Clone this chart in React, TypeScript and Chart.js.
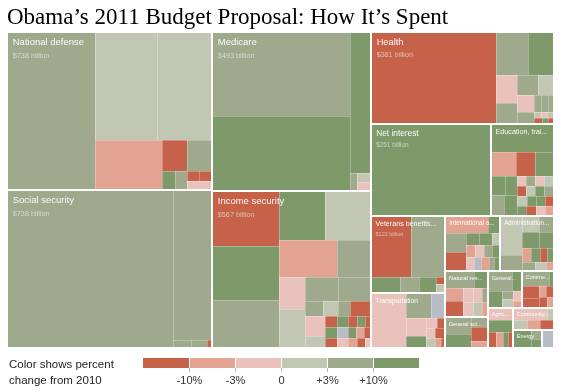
import React, { useEffect, useRef } from 'react';
import { Chart, registerables } from 'chart.js';

Chart.register(...registerables);

// ---------- data ----------
const chartTitle = 'Obama’s 2011 Budget Proposal: How It’s Spent';

const categories = [
  'National defense',
  'Social security',
  'Medicare',
  'Income security',
  'Health',
  'Net interest',
  'Education, training, employment and social services',
  'Veterans benefits and services',
  'Transportation',
  'International affairs',
  'Administration of justice',
  'Natural resources and environment',
  'General science, space and technology',
  'General government',
  'Commerce and housing credit',
  'Agriculture',
  'Community and regional development',
  'Energy',
  '',
];

const amountLabels = [
  '$738 billion', '$738 billion', '$493 billion', '$567 billion', '$381 billion',
  '$251 billion', '', '$122 billion', '', '', '', '', '', '', '', '', '', '', '',
];

const legendTicks = ['-10%', '-3%', '0', '+3%', '+10%'];
const legendCaption = ['Color shows percent', 'change from 2010'];

// cells: [value (billions), change class 0..6]; groups: ['h'|'v', ...children]
const defenseCells = ['h', [305, 5], ['v', ['h', [148, 4], [131, 4]], ['h', [74, 2], ['v', ['h', [17.2, 1], [17.2, 5]], ['h', [5.5, 6], [5.1, 5], ['v', ['h', [2.6, 1], [2.6, 1]], [5.3, 3]]]]]]];
const socialSecurityCells = ['h', [574, 5], ['v', [129, 5], ['h', [3.2, 5], [2.8, 5], [0.9, 1]]]];
const medicareCells = ['h', ['v', [255, 5], [230, 6]], ['v', [65, 6], ['h', [2.8, 5], ['v', [2.8, 4], [2.8, 3]]]]];
const incomeSecurityCells = ['h', ['v', [82, 1], [79, 6], [71.5, 5]], ['v', ['h', [50, 6], [50, 4]], ['h', [46.4, 2], [27.2, 5]], ['h', ['v', [18.5, 3], [22.5, 4]], ['v', ['h', [17.6, 5], [17.6, 5]], ['h', [6, 5], [5, 4], [4, 5], [7, 1]], ['h', ['v', [8.9, 3], [5.3, 4]], ['v', ['h', [2.8, 1], [2.8, 6], [2.2, 1], [1.8, 6], [1.6, 1]], ['h', [2.8, 6], [2.6, 0], [2, 6], [2, 2], [1.8, 1]], ['h', [2.6, 1], [2.4, 3], [2, 2], [1.8, 1], [1.4, 3]]]]]]]];
const healthCells = ['h', [251, 1], ['v', ['h', [30.6, 5], [24.8, 6]], ['h', ['v', [12.6, 3], [9.8, 5]], ['v', ['h', [8.9, 5], [6.8, 4]], ['h', ['v', [6.4, 3], [4.5, 5]], ['v', ['h', [2.6, 5], [2.6, 5], [2.4, 5]], ['v', ['h', [1, 4], [0.8, 3], [0.9, 4]], ['h', [1, 1], [0.8, 6], [0.8, 1]]]]]]]]];
const netInterestCells = [244, 6];
const educationCells = ['v', [38.9, 6], ['h', [12.8, 2], [10.1, 1], [10.1, 6]], ['h', ['v', ['h', [5.5, 6], [5.1, 6]], ['h', [6, 5], [5.7, 6]]], ['v', ['h', [2, 3], [2, 5], [2, 3], [2.2, 4]], ['h', [2, 1], [2, 4], [2, 6], [2.2, 5]], ['h', [2.2, 4], [2, 6], [2, 6], [2, 1]], ['h', [2, 6], [2.2, 1], [2, 3], [2, 2]]]]];
const veteransCells = ['v', ['h', [52.7, 1], [45.3, 5]], ['h', [10.6, 6], [6.6, 5], [6.2, 6], ['v', [1.6, 1], [1.9, 4]]]];
const transportationCells = ['h', [41.2, 3], ['v', ['h', [13.6, 5], [7.9, 0]], ['h', ['v', [8, 3], [5.3, 6]], ['v', ['h', [2.5, 3], [1.8, 1]], ['h', [2, 3], [2.3, 1]], ['h', [2, 4], [1.5, 2], [0.8, 1]]]]]];
const internationalCells = ['v', ['h', [16.1, 2], [4.5, 6]], ['h', ['v', [8.7, 5], [8.2, 1]], ['v', ['h', [3.5, 6], [3.5, 6], [2.1, 4]], ['h', [2.5, 2], [2.3, 3], [2.3, 5], [2, 6]], ['h', [2.5, 3], [2, 0], [2.2, 2], [1.5, 5], [1.6, 6]]]]];
const justiceCells = ['h', ['v', [19.1, 4], [7.3, 5]], ['v', ['h', [6, 4], [5.4, 5]], ['h', [6, 6], [5.4, 6]], ['h', [3, 2], [2.5, 6], [2.3, 1], [2.2, 6]], ['h', [2.4, 5], [1.8, 4], [1.5, 2]]]];
const naturalResourcesCells = ['v', ['h', [11, 5], [5.2, 6]], ['h', ['v', [5.2, 2], [6.1, 1]], ['v', ['h', [3.2, 3], [3, 3], [2, 5]], ['h', [3.2, 3], [3, 4], [2, 2]]]]];
const generalScienceCells = ['h', ['v', [9.6, 5], [8, 6]], ['v', [4, 5], [5.5, 1], [2.5, 2]]];
const generalGovernmentCells = ['v', ['h', [10.4, 5], [4.5, 6]], ['h', [5, 6], ['v', [2, 5], [2.1, 4]], ['v', [2.2, 3], [1.3, 2]]]];
const commerceCells = ['v', ['h', [9, 5], [1.7, 6]], ['h', ['v', [4.8, 1], [3.5, 1]], ['v', ['h', [1.8, 2], [1.8, 1]], ['h', [2, 1], [1.7, 2]]]]];
const agricultureCells = ['v', [6.7, 3], [6.7, 6], ['h', [2.8, 1], [2.5, 2], [1.8, 6], [1.8, 1]]];
const communityCells = ['v', ['h', [9, 3], [1.8, 4]], ['h', [3, 4], [3, 2], [3, 1]]];
const energyCells = ['h', [7, 6], ['v', [2.2, 5], [2.2, 6]]];
const otherCells = [4.8, 0];

const categoryCells: any[] = [
  defenseCells, socialSecurityCells, medicareCells, incomeSecurityCells, healthCells,
  netInterestCells, educationCells, veteransCells, transportationCells, internationalCells,
  justiceCells, naturalResourcesCells, generalScienceCells, generalGovernmentCells,
  commerceCells, agricultureCells, communityCells, energyCells, otherCells,
];

// how category blocks nest (indices into categories)
const arrangement: any = ['h', ['v', 0, 1], ['v', 2, 3], ['v', 4, ['h', 5, 6], ['h', ['v', 7, 8], ['v', ['h', 9, 10], ['h', ['v', 11, 12], ['v', ['h', 13, 14], ['h', 15, ['v', 16, ['h', 17, 18]]]]]]]]];

// ---------- styles ----------
const classColors = ['#b8bcc7', '#c7624a', '#e2a393', '#e9c3bb', '#c2c7b3', '#9fa98b', '#7f9a6a'];
const sans = "'Liberation Sans', Arial, sans-serif";

// ---------- layout helpers ----------
const isGroup = (n: any) => Array.isArray(n) && typeof n[0] === 'string';
function sizeOf(n: any, leafSize: (l: any) => number): number {
  if (isGroup(n)) {
    let s = 0;
    for (let i = 1; i < n.length; i++) s += sizeOf(n[i], leafSize);
    return s;
  }
  return leafSize(n);
}
type R = { x0: number; y0: number; x1: number; y1: number };
function layoutTree(n: any, r: R, leafSize: (l: any) => number, onLeaf: (l: any, r: R) => void) {
  if (!isGroup(n)) { onLeaf(n, r); return; }
  const kids = n.slice(1);
  const total = kids.reduce((s: number, k: any) => s + sizeOf(k, leafSize), 0);
  let acc = 0;
  for (const k of kids) {
    const v = sizeOf(k, leafSize);
    const a = acc / total, b = (acc + v) / total;
    acc += v;
    const sub = n[0] === 'h'
      ? { x0: r.x0 + (r.x1 - r.x0) * a, x1: r.x0 + (r.x1 - r.x0) * b, y0: r.y0, y1: r.y1 }
      : { x0: r.x0, x1: r.x1, y0: r.y0 + (r.y1 - r.y0) * a, y1: r.y0 + (r.y1 - r.y0) * b };
    layoutTree(k, sub, leafSize, onLeaf);
  }
}
const cellSize = (leaf: any) => leaf[0];
const catSize = (ci: number) => sizeOf(categoryCells[ci], cellSize);

function fitText(ctx: CanvasRenderingContext2D, text: string, maxW: number) {
  if (ctx.measureText(text).width <= maxW) return text;
  let s = text;
  while (s.length > 1 && ctx.measureText(s + '...').width > maxW) s = s.slice(0, -1);
  return s.trimEnd() + '...';
}

const treemapPlugin = {
  id: 'treemap',
  afterDatasetsDraw(chart: any) {
    const ctx: CanvasRenderingContext2D = chart.ctx;
    const xs = chart.scales.x, ys = chart.scales.y;
    const px = (v: number) => Math.round(xs.getPixelForValue(v));
    const py = (v: number) => Math.round(ys.getPixelForValue(v));
    ctx.save();
    layoutTree(arrangement, { x0: 0, y0: 0, x1: 1, y1: 1 }, catSize, (ci: number, r: R) => {
      const L = px(r.x0) + 1, Rr = px(r.x1) - 1, T = py(r.y0) + 1, B = py(r.y1) - 1;
      ctx.save();
      ctx.beginPath();
      ctx.rect(L, T, Rr - L, B - T);
      ctx.clip();
      const cells: any[] = [];
      layoutTree(categoryCells[ci], r, cellSize, (leaf: any, cr: R) => {
        const a = Math.max(L, px(cr.x0)), c = Math.min(Rr, px(cr.x1));
        const b = Math.max(T, py(cr.y0)), d = Math.min(B, py(cr.y1));
        cells.push([a, b, c, d, leaf[1]]);
      });
      for (const [a, b, c, d, k] of cells) {
        ctx.fillStyle = classColors[k];
        ctx.fillRect(a, b, c - a, d - b);
      }
      ctx.fillStyle = 'rgba(255,255,255,0.28)';
      for (const [a, b, c, d] of cells) {
        if (a > L) ctx.fillRect(a, b, 1, d - b);
        if (b > T) ctx.fillRect(a, b, c - a, 1);
      }
      const name = categories[ci];
      if (name) {
        const w = Rr - L, h = B - T;
        const f = Math.max(5.5, Math.min(9.5, 4.2 + 0.04 * Math.sqrt(w * h)));
        const padL = 0.5 * f;
        const base = T + 0.35 * f + 1.6 + 0.72 * f;
        ctx.font = `${f}px ${sans}`;
        ctx.textAlign = 'left';
        ctx.textBaseline = 'alphabetic';
        ctx.fillStyle = 'rgba(255,255,255,0.94)';
        ctx.fillText(fitText(ctx, name, w - 2 * padL), L + padL, base);
        const amt = amountLabels[ci];
        if (amt) {
          ctx.font = `${f * 0.77}px ${sans}`;
          ctx.fillStyle = 'rgba(255,255,255,0.55)';
          ctx.fillText(amt, L + padL, base + 1.35 * f);
        }
      }
      ctx.restore();
    });
    ctx.restore();
  },
};

const legendPlugin = {
  id: 'colorLegend',
  afterDraw(chart: any) {
    const ctx: CanvasRenderingContext2D = chart.ctx;
    ctx.save();
    ctx.fillStyle = '#222';
    ctx.font = `11.5px ${sans}`;
    ctx.textAlign = 'left';
    ctx.textBaseline = 'alphabetic';
    ctx.fillText(legendCaption[0], 9, 368);
    ctx.fillText(legendCaption[1], 9, 384);
    const x0 = 143, bw = 46, top = 358, bh = 10;
    for (let i = 1; i <= 6; i++) {
      ctx.fillStyle = classColors[i];
      ctx.fillRect(x0 + (i - 1) * bw, top, bw, bh);
    }
    ctx.font = `11px ${sans}`;
    ctx.textAlign = 'center';
    legendTicks.forEach((t, i) => {
      const x = x0 + (i + 1) * bw;
      ctx.fillStyle = '#ffffff';
      ctx.fillRect(x, top, 1, bh);
      ctx.fillStyle = '#b5b5b5';
      ctx.fillRect(x, top + bh, 1, 4);
      ctx.fillStyle = '#333';
      ctx.fillText(t, x + 0.5, 384);
    });
    ctx.restore();
  },
};

export default function App() {
  const ref = useRef<HTMLCanvasElement>(null);
  useEffect(() => {
    document.body.style.margin = '0';
    const chart = new Chart(ref.current as HTMLCanvasElement, {
      type: 'scatter',
      data: { datasets: [{ data: [] }] },
      options: {
        responsive: false,
        animation: false,
        devicePixelRatio: 1,
        layout: { padding: { left: 7, right: 7, top: 0, bottom: 44 } },
        scales: {
          x: { type: 'linear', min: 0, max: 1, display: false },
          y: { type: 'linear', min: 0, max: 1, reverse: true, display: false },
        },
        plugins: {
          legend: { display: false },
          tooltip: { enabled: false },
          title: {
            display: true,
            text: chartTitle,
            align: 'start',
            color: '#000',
            font: { family: "'Liberation Serif', 'Times New Roman', serif", size: 23, weight: 'normal', lineHeight: 1.2 },
            padding: { top: 4, bottom: 0.4 },
          },
        },
      } as any,
      plugins: [treemapPlugin, legendPlugin],
    });
    return () => chart.destroy();
  }, []);
  return <canvas ref={ref} width={561} height={392} style={{ display: 'block' }} />;
}
